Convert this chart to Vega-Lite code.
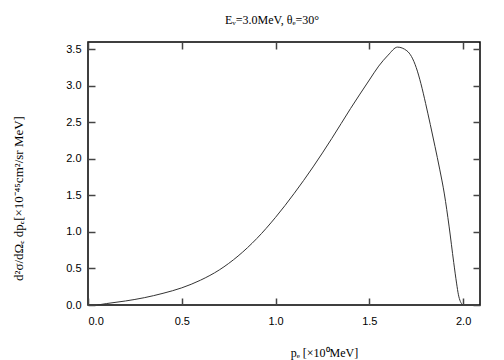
{
  "$schema": "https://vega.github.io/schema/vega-lite/v6.json",
  "autosize": "none",
  "width": 392,
  "height": 263,
  "padding": {"left": 88, "top": 42, "right": 24, "bottom": 55},
  "background": "white",
  "title": {
    "text": "Eᵥ=3.0MeV,  θₑ=30°",
    "font": "Liberation Serif",
    "fontSize": 12,
    "fontWeight": "normal",
    "color": "black",
    "offset": 14,
    "dx": -12
  },
  "data": {
    "values": [
      {"p": 0.05, "v": 0.0},
      {"p": 0.1, "v": 0.02},
      {"p": 0.2, "v": 0.055},
      {"p": 0.3, "v": 0.1},
      {"p": 0.4, "v": 0.16},
      {"p": 0.5, "v": 0.235},
      {"p": 0.6, "v": 0.34},
      {"p": 0.7, "v": 0.48},
      {"p": 0.8, "v": 0.67},
      {"p": 0.9, "v": 0.91},
      {"p": 1.0, "v": 1.2},
      {"p": 1.1, "v": 1.53},
      {"p": 1.2, "v": 1.89},
      {"p": 1.3, "v": 2.28},
      {"p": 1.4, "v": 2.69},
      {"p": 1.5, "v": 3.08},
      {"p": 1.55, "v": 3.27},
      {"p": 1.6, "v": 3.42},
      {"p": 1.65, "v": 3.53},
      {"p": 1.7, "v": 3.48},
      {"p": 1.725, "v": 3.4},
      {"p": 1.75, "v": 3.25},
      {"p": 1.775, "v": 3.03},
      {"p": 1.8, "v": 2.76},
      {"p": 1.825, "v": 2.47},
      {"p": 1.85, "v": 2.17},
      {"p": 1.875, "v": 1.86},
      {"p": 1.9, "v": 1.52},
      {"p": 1.925, "v": 1.08},
      {"p": 1.95, "v": 0.58},
      {"p": 1.965, "v": 0.3},
      {"p": 1.975, "v": 0.14},
      {"p": 1.985, "v": 0.05},
      {"p": 1.995, "v": 0.01},
      {"p": 2.0, "v": 0.0}
    ]
  },
  "layer": [
    {
      "mark": {"type": "line", "color": "#333333", "strokeWidth": 1, "interpolate": "monotone", "clip": true},
      "encoding": {
        "x": {
          "field": "p", "type": "quantitative",
          "scale": {"domain": [0, 2.09], "nice": false, "zero": false},
          "axis": {
            "orient": "bottom",
            "values": [0, 0.5, 1, 1.5, 2],
            "offset": -7,
            "format": ".1f",
            "grid": false,
            "domain": false,
            "tickSize": 7,
            "tickWidth": 1.5,
            "tickColor": "#444444",
            "labelPadding": 10,
            "labelFont": "Liberation Sans",
            "labelFontSize": 11,
            "labelColor": "black",
            "title": "pₑ [×10⁰MeV]",
            "titleFont": "Liberation Serif",
            "titleFontSize": 12,
            "titleFontWeight": "normal",
            "titleColor": "black",
            "titleX": 236,
            "titleY": 54,
            "titleBaseline": "middle"
          }
        },
        "y": {
          "field": "v", "type": "quantitative",
          "scale": {"domain": [0, 3.6], "nice": false, "zero": false},
          "axis": {
            "orient": "left",
            "values": [0, 0.5, 1, 1.5, 2, 2.5, 3, 3.5],
            "offset": -7,
            "format": ".1f",
            "grid": false,
            "domain": false,
            "tickSize": 7,
            "tickWidth": 1.5,
            "tickColor": "#444444",
            "labelPadding": 7,
            "labelFont": "Liberation Sans",
            "labelFontSize": 11,
            "labelColor": "black",
            "title": "d²σ/dΩₑ dpₑ[×10⁻⁴⁵cm²/sr MeV]",
            "titleFont": "Liberation Serif",
            "titleFontSize": 13,
            "titleFontWeight": "normal",
            "titleColor": "black",
            "titleX": -77,
            "titleY": 156,
            "titleBaseline": "middle"
          }
        }
      }
    },
    {
      "mark": {"type": "line", "opacity": 0},
      "encoding": {
        "x": {
          "field": "p", "type": "quantitative",
          "scale": {"domain": [0, 2.09], "nice": false, "zero": false},
          "axis": {"orient": "top", "offset": -7, "values": [0, 0.5, 1, 1.5, 2], "labels": false, "title": null, "grid": false, "domain": false, "tickSize": 7, "tickWidth": 1.5, "tickColor": "#444444"}
        },
        "y": {
          "field": "v", "type": "quantitative",
          "scale": {"domain": [0, 3.6], "nice": false, "zero": false},
          "axis": {"orient": "right", "offset": -7, "values": [0, 0.5, 1, 1.5, 2, 2.5, 3, 3.5], "labels": false, "title": null, "grid": false, "domain": false, "tickSize": 7, "tickWidth": 1.5, "tickColor": "#444444"}
        }
      }
    }
  ],
  "resolve": {"scale": {"x": "independent", "y": "independent"}},
  "config": {
    "view": {"stroke": "black", "strokeWidth": 1.5}
  }
}
